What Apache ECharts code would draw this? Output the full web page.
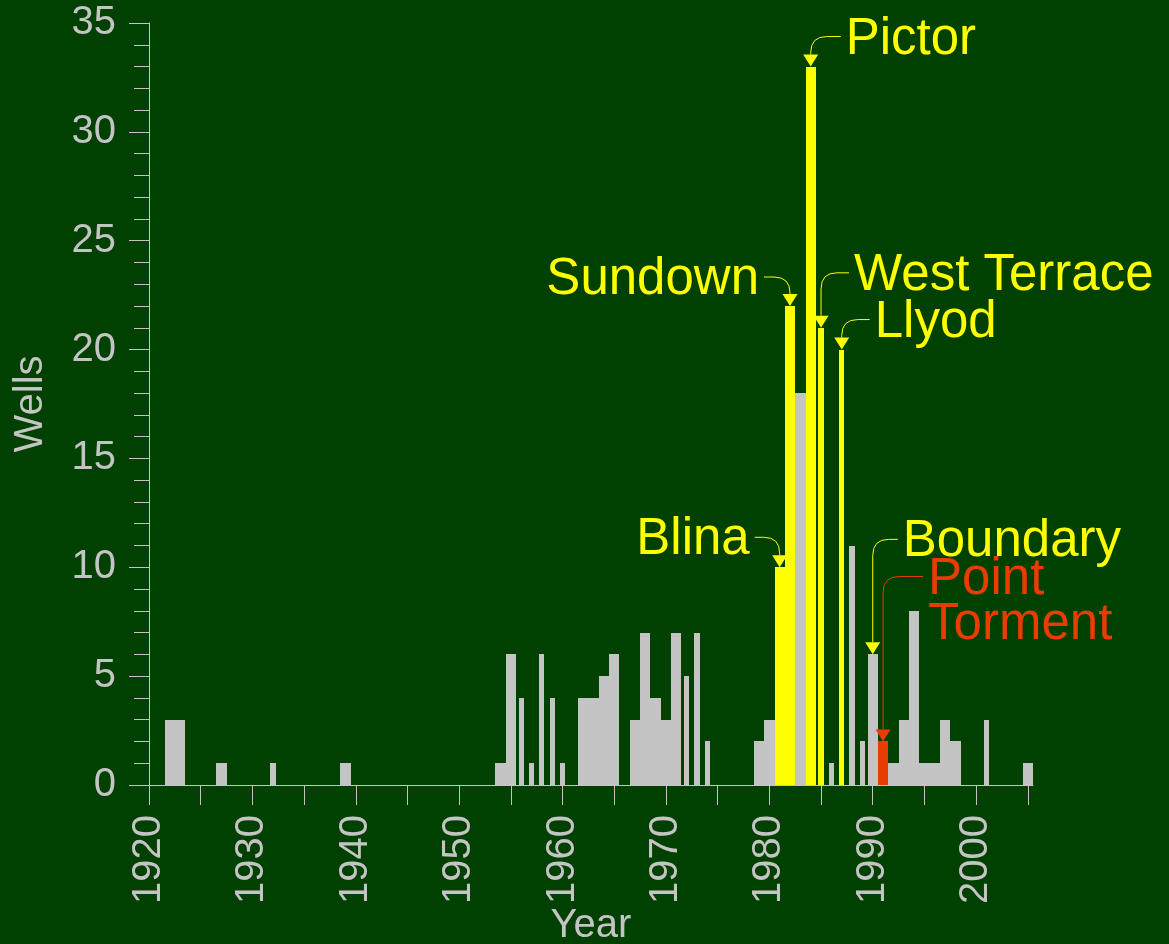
<!DOCTYPE html>
<html>
<head>
<meta charset="utf-8">
<title>Wells per year</title>
<script src="https://cdn.jsdelivr.net/npm/echarts@6/dist/echarts.min.js"></script>
<style>
html, body { margin: 0; padding: 0; background: #004000; }
#chart { width: 1169px; height: 944px; }
</style>
</head>
<body>
<div id="chart"></div>
<script>
// wells per year; spans = width of the bin in years (some bins are only half a year)
const years = [1922, 1923, 1927, 1932, 1939, 1954, 1955, 1956, 1957, 1958, 1959, 1960,
  1962, 1963, 1964, 1965, 1967, 1968, 1969, 1970, 1971, 1972, 1973, 1974,
  1979, 1980, 1981, 1982, 1983, 1984, 1985, 1986, 1987, 1988, 1989,
  1990, 1991, 1992, 1993, 1994, 1995, 1996, 1997, 1998, 2001, 2005];
const wells = [3, 3, 1, 1, 1, 1, 6, 4, 1, 6, 4, 1,
  4, 4, 5, 6, 3, 7, 4, 3, 7, 5, 7, 2,
  2, 3, 10, 22, 18, 33, 21, 1, 20, 11, 2,
  6, 2, 1, 3, 8, 1, 1, 3, 2, 3, 1];
const spans = [1, 1, 1, 0.5, 1, 1, 1, 0.5, 0.5, 0.5, 0.5, 0.5,
  1, 1, 1, 1, 1, 1, 1, 1, 1, 0.5, 0.5, 0.5,
  1, 1, 1, 1, 1, 1, 0.5, 0.5, 0.5, 0.5, 0.5,
  1, 1, 1, 1, 1, 1, 1, 1, 1, 0.5, 1];

// highlighted years
const fieldYears = [1981, 1982, 1984, 1985, 1987];
const dryYears = [1991];

// named wells
const noteYears = [1981, 1982, 1984, 1985, 1987, 1990, 1991];
const noteNames = ['Blina', 'Sundown', 'Pictor', 'West Terrace', 'Llyod', 'Boundary', 'Point\nTorment'];

// axis ticks
const xTickYears = [1920, 1925, 1930, 1935, 1940, 1945, 1950, 1955, 1960, 1965, 1970, 1975, 1980, 1985, 1990, 1995, 2000, 2005];
const xLabelYears = [1920, 1930, 1940, 1950, 1960, 1970, 1980, 1990, 2000];

const GRAY = '#c4c4c4';
const YELLOW = '#ffff00';
const RED = '#e83c00';
const FONT = '"Liberation Sans", Arial, Helvetica, sans-serif';

// leader placement: dir = side of label, rise = height of leader above bar top, gap = leader length
const noteLayout = {
  'Blina': { dir: -1, rise: 30, gap: 25 },
  'Sundown': { dir: -1, rise: 29, gap: 26 },
  'Pictor': { dir: 1, rise: 30, gap: 30 },
  'West Terrace': { dir: 1, rise: 55, gap: 28 },
  'Llyod': { dir: 1, rise: 30, gap: 28 },
  'Boundary': { dir: 1, rise: 115, gap: 25 },
  'Point\nTorment': { dir: 1, rise: 165, gap: 40 }
};

const barData = years.map((y, i) => [y, wells[i], spans[i]]);
const noteData = noteYears.map((y, i) => [y, wells[years.indexOf(y)], i]);

const chart = echarts.init(document.getElementById('chart'));

function renderBar(params, api) {
  const yr = api.value(0);
  const top = api.coord([yr, api.value(1)]);
  const base = api.coord([yr, 0]);
  const w = api.size([api.value(2), 0])[0];
  // snap edges to whole pixels so neighbouring bars join without seams
  const x0 = Math.round(top[0] - w / 2);
  const x1 = Math.round(top[0] + w / 2);
  let fill = GRAY;
  if (fieldYears.indexOf(yr) >= 0) fill = YELLOW;
  if (dryYears.indexOf(yr) >= 0) fill = RED;
  return {
    type: 'rect',
    shape: { x: x0, y: Math.round(top[1]), width: x1 - x0, height: Math.round(base[1]) - Math.round(top[1]) },
    style: { fill: fill }
  };
}

function renderNote(params, api) {
  const name = noteNames[api.value(2)];
  const L = noteLayout[name];
  const color = name.indexOf('Torment') >= 0 ? RED : YELLOW;
  const tip = api.coord([api.value(0), api.value(1)]);
  const tx = tip[0], ty = tip[1];
  const sy = ty - L.rise;
  const sx = tx + L.dir * L.gap;
  const r = 16, aH = 12, aW = 15;
  const lines = name.split('\n').length;
  const lh = 45;
  return {
    type: 'group',
    children: [
      {
        type: 'path',
        shape: {
          pathData: 'M' + sx + ' ' + sy + ' L' + (tx + L.dir * r) + ' ' + sy +
            ' Q' + tx + ' ' + sy + ' ' + tx + ' ' + (sy + r) +
            ' L' + tx + ' ' + (ty - aH)
        },
        style: { fill: null, stroke: color, lineWidth: 1 }
      },
      {
        type: 'polygon',
        shape: { points: [[tx - aW / 2, ty - aH], [tx + aW / 2, ty - aH], [tx, ty]] },
        style: { fill: color }
      },
      {
        type: 'text',
        style: {
          text: name,
          x: sx + L.dir * 5,
          y: sy + 3 + (lines - 1) * lh / 2,
          fill: color,
          font: '51px ' + FONT,
          lineHeight: lh,
          align: L.dir > 0 ? 'left' : 'right',
          verticalAlign: 'middle'
        }
      }
    ]
  };
}

chart.setOption({
  backgroundColor: '#004000',
  animation: false,
  textStyle: { fontFamily: FONT },
  grid: { left: 149, top: 23, width: 884, height: 762, containLabel: false, outerBoundsMode: 'none' },
  xAxis: {
    type: 'value',
    min: 1920,
    max: 2005.5,
    name: 'Year',
    nameLocation: 'middle',
    nameGap: 121,
    nameMoveOverlap: false,
    nameTextStyle: { color: GRAY, fontSize: 40, fontFamily: FONT, verticalAlign: 'top' },
    axisLine: { show: true, lineStyle: { color: GRAY, width: 1 } },
    axisTick: { show: true, length: 20, lineStyle: { color: GRAY }, customValues: xTickYears },
    axisLabel: {
      rotate: 90, margin: 30, color: GRAY, fontSize: 40, fontFamily: FONT,
      customValues: xLabelYears,
      formatter: v => String(v)
    },
    splitLine: { show: false }
  },
  yAxis: {
    type: 'value',
    min: 0,
    max: 35,
    interval: 5,
    name: 'Wells',
    nameLocation: 'middle',
    nameGap: 98,
    nameMoveOverlap: false,
    nameTextStyle: { color: GRAY, fontSize: 40, fontFamily: FONT },
    axisLine: { show: true, lineStyle: { color: GRAY, width: 1 } },
    axisTick: { show: true, length: 20, lineStyle: { color: GRAY } },
    minorTick: { show: true, splitNumber: 5, length: 15, lineStyle: { color: GRAY } },
    axisLabel: { margin: 33, color: GRAY, fontSize: 40, fontFamily: FONT },
    splitLine: { show: false }
  },
  series: [
    {
      type: 'custom',
      renderItem: renderBar,
      encode: { x: 0, y: 1 },
      data: barData
    },
    {
      type: 'custom',
      renderItem: renderNote,
      encode: { x: 0, y: 1 },
      data: noteData,
      z: 5
    }
  ]
});
</script>
</body>
</html>
